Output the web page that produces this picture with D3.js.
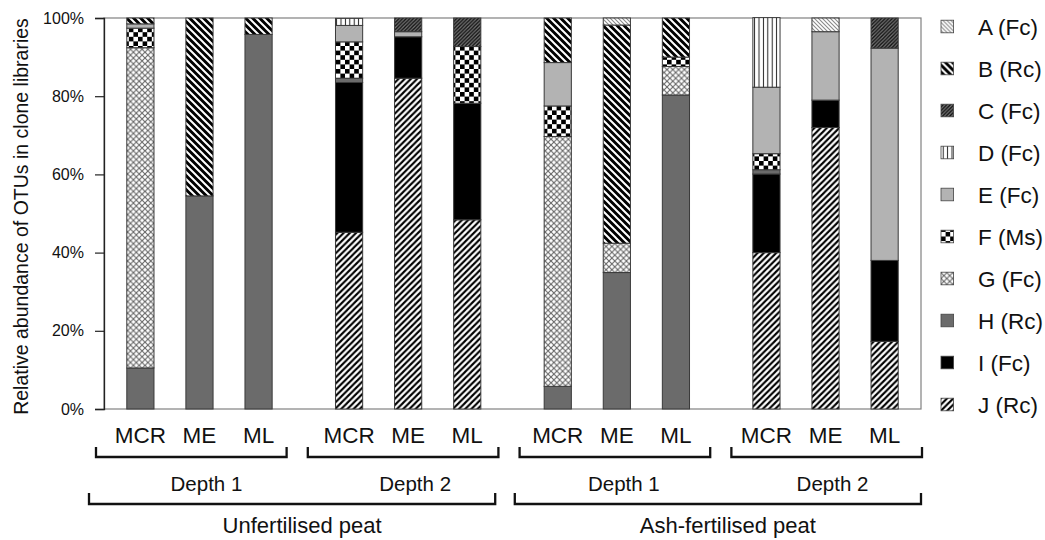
<!DOCTYPE html>
<html><head><meta charset="utf-8">
<script src="https://cdn.jsdelivr.net/npm/d3@7"></script>
<style>body{margin:0;background:#fff}svg{display:block;font-family:"Liberation Sans",Arial,sans-serif}</style>
</head><body><svg id="c" width="1045" height="540"></svg>
<script>
// ---------- data ----------
const treatments = ["Unfertilised peat", "Ash-fertilised peat"];
const depths = ["Depth 1", "Depth 2"];
const samples = ["MCR", "ME", "ML"];
const seriesKeys = ["A", "B", "C", "D", "E", "F", "G", "H", "I", "J"];
const seriesLabels = ["A (Fc)", "B (Rc)", "C (Fc)", "D (Fc)", "E (Fc)", "F (Ms)", "G (Fc)", "H (Rc)", "I (Fc)", "J (Rc)"];
const yTickValues = [0, 20, 40, 60, 80, 100];
// values (%) per bar: Unfert D1 MCR,ME,ML | Unfert D2 | Ash D1 | Ash D2
const A = [0, 0, 0, 0, 0, 0, 0, 1.8, 0, 0, 3.5, 0];
const B = [1.5, 45.5, 4.2, 0, 0, 0, 11.4, 55.8, 10.0, 0, 0, 0];
const C = [0, 0, 0, 0, 3.5, 7.3, 0, 0, 0, 0, 0, 7.7];
const D = [0, 0, 0, 1.8, 0, 0, 0, 0, 0, 17.8, 0, 0];
const E = [1.1, 0, 0, 4.2, 1.3, 0, 11.1, 0, 0, 17.0, 17.5, 54.3];
const F = [5.0, 0, 0, 9.3, 0, 14.5, 7.8, 0, 2.4, 4.1, 0, 0];
const G = [81.9, 0, 0, 0, 0, 0, 63.9, 7.5, 7.3, 0, 0, 0];
const H = [10.5, 54.5, 95.8, 1.1, 0, 0, 5.8, 34.9, 80.3, 1.1, 0, 0];
const I = [0, 0, 0, 38.3, 10.6, 29.8, 0, 0, 0, 20.1, 7.0, 20.7];
const J = [0, 0, 0, 45.2, 84.6, 48.4, 0, 0, 0, 40.0, 72.0, 17.3];
const seriesValues = {A, B, C, D, E, F, G, H, I, J};

// ---------- build table ----------
const groups = [];
treatments.forEach(t => depths.forEach(d => groups.push(t + "|" + d)));
const rows = [];
let k = 0;
groups.forEach(g => samples.forEach(s => {
  const r = {group: g, sample: s};
  seriesKeys.forEach(key => r[key] = seriesValues[key][k]);
  rows.push(r); k++;
}));

const svg = d3.select("#c");
const plot = {left: 104, right: 921, top: 18, bottom: 409};

// ---------- patterns ----------
const defs = svg.append("defs");
function hatch(id, size, bg, color, width, dir) {
  const p = defs.append("pattern").attr("id", id).attr("patternUnits", "userSpaceOnUse")
    .attr("width", size).attr("height", size);
  p.append("rect").attr("width", size).attr("height", size).attr("fill", bg);
  const s = size;
  const d = dir === "up"
    ? `M0,${s} L${s},0 M${-s/2},${s/2} L${s/2},${-s/2} M${s/2},${s*1.5} L${s*1.5},${s/2}`
    : `M0,0 L${s},${s} M${-s/2},${s/2} L${s/2},${s*1.5} M${s/2},${-s/2} L${s*1.5},${s/2}`;
  p.append("path").attr("d", d).attr("stroke", color).attr("stroke-width", width);
}
hatch("pA", 4, "#fff", "#8a8a8a", 1.1, "down");
hatch("pB", 7, "#000", "#fff", 2.0, "down");
hatch("pC", 3.6, "#777", "#111", 1.4, "up");
hatch("pJ", 6.2, "#fff", "#000", 2.1, "up");
{
  const p = defs.append("pattern").attr("id", "pD").attr("patternUnits", "userSpaceOnUse").attr("width", 4.4).attr("height", 4);
  p.append("rect").attr("width", 4.4).attr("height", 4).attr("fill", "#fff");
  p.append("path").attr("d", "M2.2,0 V4").attr("stroke", "#222").attr("stroke-width", 1);
}
{
  const c = 4.6;
  const p = defs.append("pattern").attr("id", "pF").attr("patternUnits", "userSpaceOnUse").attr("width", 2*c).attr("height", 2*c);
  p.append("rect").attr("width", 2*c).attr("height", 2*c).attr("fill", "#fff");
  p.append("rect").attr("width", c).attr("height", c).attr("fill", "#000");
  p.append("rect").attr("x", c).attr("y", c).attr("width", c).attr("height", c).attr("fill", "#000");
}
{
  const s = 5.8;
  const p = defs.append("pattern").attr("id", "pG").attr("patternUnits", "userSpaceOnUse").attr("width", s).attr("height", s);
  p.append("rect").attr("width", s).attr("height", s).attr("fill", "#fff");
  p.append("path").attr("d", `M0,0 L${s},${s} M0,${s} L${s},0`).attr("stroke", "#666").attr("stroke-width", 1.1);
}
const fills = {A: "url(#pA)", B: "url(#pB)", C: "url(#pC)", D: "url(#pD)", E: "#b3b3b3",
  F: "url(#pF)", G: "url(#pG)", H: "#6b6b6b", I: "#000", J: "url(#pJ)"};

// ---------- scales ----------
const xGroup = d3.scaleBand().domain(groups).range([plot.left, plot.right]).paddingInner(0.094).paddingOuter(0.0045);
const xSample = d3.scaleBand().domain(samples).range([0, xGroup.bandwidth()]).paddingInner(0.54).paddingOuter(0.37);
const y = d3.scaleLinear().domain([0, 100]).range([plot.bottom, plot.top]);
const xBracket = d3.scaleBand().domain(groups).range([96, 922]).paddingInner(0.1).paddingOuter(0);
const xTreat = d3.scaleBand().domain(treatments).range([89, 921]).paddingInner(0.046).paddingOuter(0);

// frame
svg.append("rect").attr("x", plot.left).attr("y", plot.top)
  .attr("width", plot.right - plot.left).attr("height", plot.bottom - plot.top)
  .attr("fill", "none").attr("stroke", "#808080").attr("stroke-width", 1.2);

// ---------- bars ----------
const stackKeys = seriesKeys.slice().reverse(); // J at bottom
const stacked = d3.stack().keys(stackKeys)(rows);
svg.append("g").selectAll("g").data(stacked).join("g")
  .attr("fill", s => fills[s.key])
  .selectAll("rect").data(s => s.filter(d => d[1] - d[0] > 0)).join("rect")
  .attr("x", d => xGroup(d.data.group) + xSample(d.data.sample))
  .attr("width", xSample.bandwidth())
  .attr("y", d => y(d[1]))
  .attr("height", d => y(d[0]) - y(d[1]))
  .attr("stroke", "#3a3a3a").attr("stroke-width", 1);

// ---------- y axis ----------
const yAxis = svg.append("g").attr("transform", `translate(${plot.left},0)`)
  .call(d3.axisLeft(y).tickValues(yTickValues).tickFormat(d => d + "%").tickSize(9).tickPadding(11));
yAxis.select(".domain").attr("stroke", "#222").attr("stroke-width", 1.3);
yAxis.selectAll(".tick line").attr("stroke", "#222").attr("stroke-width", 1.2);
yAxis.selectAll("text").attr("font-size", 16).attr("fill", "#111").attr("font-family", "Liberation Sans, Arial, sans-serif");

svg.append("text").attr("transform", `translate(28,${(plot.top + plot.bottom) / 2 + 3}) rotate(-90)`)
  .attr("text-anchor", "middle").attr("font-size", 19.5).attr("fill", "#111")
  .text("Relative abundance of OTUs in clone libraries");

// ---------- x labels ----------
const xl = svg.append("g");
rows.forEach(r => {
  xl.append("text")
    .attr("x", xGroup(r.group) + xSample(r.sample) + xSample.bandwidth() / 2)
    .attr("y", 443).attr("text-anchor", "middle").attr("font-size", 22.5).attr("fill", "#111")
    .text(r.sample);
});
function bracket(x0, x1, yb, h) {
  xl.append("path").attr("d", `M${x0},${yb - h} V${yb} H${x1} V${yb - h}`)
    .attr("fill", "none").attr("stroke", "#111").attr("stroke-width", 2.3);
}
groups.forEach(g => {
  bracket(xBracket(g), xBracket(g) + xBracket.bandwidth(), 457, 10);
  xl.append("text").attr("x", xGroup(g) + xGroup.bandwidth() / 2 + 7).attr("y", 490.5)
    .attr("text-anchor", "middle").attr("font-size", 20.5).attr("fill", "#111")
    .text(g.split("|")[1]);
});
treatments.forEach(t => {
  bracket(xTreat(t), xTreat(t) + xTreat.bandwidth(), 504, 11);
  xl.append("text").attr("x", xTreat(t) + xTreat.bandwidth() / 2 + 10).attr("y", 533)
    .attr("text-anchor", "middle").attr("font-size", 22).attr("fill", "#111")
    .text(t);
});

// ---------- legend ----------
const ly = d3.scalePoint().domain(seriesKeys).range([26.5, 404.5]);
const lg = svg.append("g").selectAll("g").data(seriesKeys).join("g")
  .attr("transform", d => `translate(941,${ly(d)})`);
lg.append("rect").attr("x", 0).attr("y", -6.3).attr("width", 12.6).attr("height", 12.6)
  .attr("fill", d => fills[d]).attr("stroke", "#444").attr("stroke-width", 0.8);
lg.append("text").attr("x", 37).attr("y", 0).attr("dy", "0.36em")
  .attr("font-size", 22.5).attr("fill", "#111")
  .text((d, i) => seriesLabels[i]);
</script></body></html>
